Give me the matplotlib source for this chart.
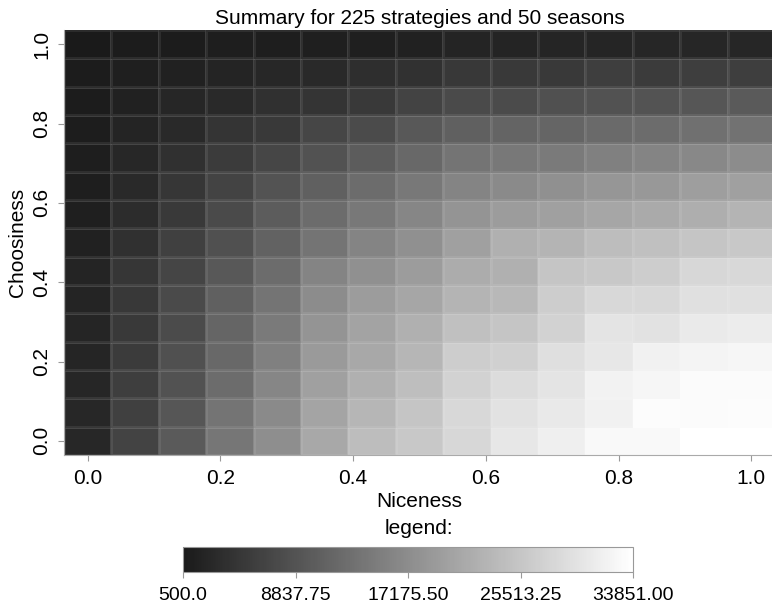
import numpy as np
import matplotlib
matplotlib.use("Agg")
import matplotlib.pyplot as plt
from matplotlib.colors import LinearSegmentedColormap

plt.rcParams['font.family'] = ['Liberation Sans', 'DejaVu Sans']

# strategy grid
niceness = np.linspace(0, 1, 15)
choosiness = np.linspace(0, 1, 15)

# summary score per strategy, rows from choosiness 1.0 (top) down to 0.0
summary_top_down = [
    [500, 790, 790, 1080, 1080, 1370, 1370, 1670, 1960, 1960, 2100, 2100, 2250, 2250, 2250],
    [790, 1370, 1670, 1960, 2540, 2830, 3410, 4000, 4870, 5160, 5160, 5740, 5450, 5740, 5740],
    [790, 1670, 2250, 2830, 3700, 4290, 5160, 6620, 7490, 7780, 8360, 8660, 8950, 9240, 9820],
    [940, 1960, 2830, 4290, 5160, 6910, 7780, 9530, 10690, 11280, 11570, 12150, 12440, 13020, 13320],
    [1080, 2540, 3700, 5450, 6910, 8660, 10110, 11860, 13610, 14190, 14480, 15360, 15940, 16520, 17100],
    [1080, 2830, 4580, 6620, 8950, 10690, 12440, 14190, 15940, 16810, 17690, 18560, 18850, 19720, 20020],
    [1370, 3120, 5160, 7490, 10110, 12440, 14190, 16230, 18270, 19430, 20020, 20890, 21470, 22060, 22930],
    [1670, 3700, 6030, 8360, 10990, 13610, 15940, 17690, 20020, 22350, 22930, 24090, 24680, 25260, 25840],
    [1960, 4580, 6760, 9530, 12440, 15940, 17690, 19430, 21760, 22350, 25260, 25840, 26430, 27880, 28170],
    [1960, 4870, 7490, 10690, 13610, 17100, 19430, 20890, 22930, 23510, 26430, 28170, 28170, 29340, 29340],
    [2100, 5160, 7780, 11570, 14480, 18270, 20310, 22350, 24680, 25260, 27300, 29920, 29630, 30790, 31090],
    [2100, 5450, 8360, 11860, 15360, 19140, 21180, 23220, 26430, 27010, 29050, 30210, 31670, 32250, 32540],
    [2250, 5740, 8660, 12440, 16230, 20020, 22350, 24390, 27300, 28760, 29920, 31960, 32540, 33120, 33120],
    [2390, 6030, 9240, 13610, 16810, 20600, 23220, 25260, 28170, 29630, 30500, 31670, 33420, 33120, 33420],
    [2540, 6620, 9820, 13900, 17390, 21180, 24090, 25840, 27880, 30210, 31380, 32830, 32830, 33851, 33851],
]

cbar_ticks = [500.0, 8837.75, 17175.50, 25513.25, 33851.00]
cbar_labels = ['500.0', '8837.75', '17175.50', '25513.25', '33851.00']

Z = np.array(summary_top_down[::-1], dtype=float)   # row 0 = choosiness 0.0

cmap = LinearSegmentedColormap.from_list('greys_custom', ['#1a1a1a', '#ffffff'])

fig = plt.figure(figsize=(7.72, 6.10), dpi=100)
ax = fig.add_axes([64 / 772, 155 / 610, 711 / 772, 425 / 610])

step = niceness[1] - niceness[0]
xe = np.append(niceness - step / 2, niceness[-1] + step / 2)
ye = np.append(choosiness - step / 2, choosiness[-1] + step / 2)
mesh = ax.pcolormesh(xe, ye, Z, cmap=cmap, vmin=500, vmax=33851,
                     edgecolors=(1, 1, 1, 0.08), linewidth=0.8)

ax.set_xlim(xe[0], xe[-1])
ax.set_ylim(ye[0], ye[-1])
ax.set_xticks([0.0, 0.2, 0.4, 0.6, 0.8, 1.0])
ax.set_yticks([0.0, 0.2, 0.4, 0.6, 0.8, 1.0])
ax.set_xticklabels(['0.0', '0.2', '0.4', '0.6', '0.8', '1.0'])
ax.set_yticklabels(['0.0', '0.2', '0.4', '0.6', '0.8', '1.0'], rotation=90, va='center')
ax.tick_params(length=4, width=0.8, color='#999999', labelsize=15)
ax.tick_params(axis='x', pad=6)
ax.tick_params(axis='y', pad=5)
for side in ['top', 'right']:
    ax.spines[side].set_visible(False)
for side in ['bottom', 'left']:
    ax.spines[side].set_color('#aaaaaa')
    ax.spines[side].set_linewidth(0.8)

ax.set_title('Summary for 225 strategies and 50 seasons', fontsize=15, pad=4)
ax.set_xlabel('Niceness', fontsize=15, labelpad=3)
ax.set_ylabel('Choosiness', fontsize=15, labelpad=4)

fig.text(419 / 772, 1 - 528 / 610, 'legend:', ha='center', va='center', fontsize=15)

cax = fig.add_axes([183 / 772, 38 / 610, 450 / 772, 25 / 610])
cb = fig.colorbar(mesh, cax=cax, orientation='horizontal', ticks=cbar_ticks)
cb.set_ticklabels(cbar_labels)
cb.outline.set_edgecolor('#999999')
cb.outline.set_linewidth(0.8)
cax.tick_params(length=4, width=0.8, color='#999999', pad=7, labelsize=14)

fig.savefig('out.png', dpi=100)
